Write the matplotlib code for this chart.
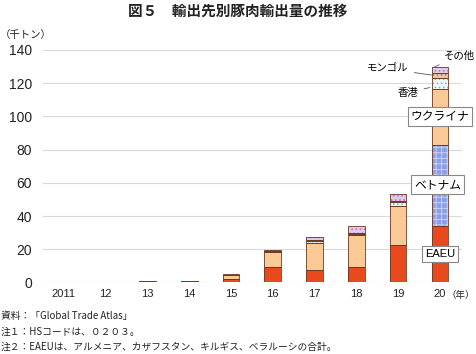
import matplotlib
matplotlib.use("Agg")
import matplotlib.pyplot as plt
import numpy as np

plt.rcParams['font.family'] = ['Noto Sans CJK JP', 'DejaVu Sans']
plt.rcParams['hatch.linewidth'] = 0.6

years = ['2011', '12', '13', '14', '15', '16', '17', '18', '19', '20']
eaeu = [0.1, 0.1, 0.3, 0.4, 2.0, 9.5, 7.8, 9.6, 22.8, 34.3]
vietnam = [0, 0, 0, 0, 0, 0, 0, 0, 0, 48.5]
ukraine = [0.1, 0.1, 0.3, 0.3, 2.5, 9.0, 16.2, 19.2, 23.5, 33.7]
hongkong = [0, 0, 0, 0, 0, 0.3, 0.8, 0.3, 2.2, 6.4]
mongolia = [0, 0, 0, 0, 0.2, 0.3, 0.6, 0.7, 0.8, 3.2]
others = [0.1, 0.1, 0.1, 0.1, 0.2, 0.4, 2.2, 4.0, 4.2, 3.4]

series = [
    ('EAEU', eaeu, '#E8491D', None, None),
    ('ベトナム', vietnam, '#8C9EE6', '+++', '#D0D8F6'),
    ('ウクライナ', ukraine, '#FACA96', None, None),
    ('香港', hongkong, '#EEF8F8', '....', '#7DB4C0'),
    ('モンゴル', mongolia, '#EBC6A6', '....', '#A8785A'),
    ('その他', others, '#E6C8EA', '....', '#A678B4'),
]

fig = plt.figure(figsize=(4.76, 3.54), dpi=100)
ax = fig.add_axes([0.0903, 0.2020, 0.8803, 0.6568])

x = np.arange(len(years))
w = 0.40
bottom = np.zeros(len(years))
for name, vals, face, hatch, hcol in series:
    v = np.array(vals, dtype=float)
    ax.bar(x, v, w, bottom=bottom, color=face, edgecolor='none', linewidth=0, zorder=2)
    if hatch:
        ax.bar(x, v, w, bottom=bottom, facecolor='none', edgecolor=hcol,
               hatch=hatch, linewidth=0, zorder=3)
    ax.bar(x, v, w, bottom=bottom, fill=False, edgecolor='#6B3A25',
           linewidth=0.6, zorder=4)
    bottom += v

ax.set_xlim(-0.5, 9.53)
ax.set_ylim(0, 140)
ax.set_yticks(np.arange(0, 141, 20))
ax.set_xticks(x)
ax.set_xticklabels(years, family='Liberation Sans', fontsize=8, color='#222222')
ax.set_yticklabels([str(v) for v in range(0, 141, 20)], family='Liberation Sans',
                   fontsize=10, color='#222222')
ax.tick_params(length=0, pad=8)
ax.tick_params(axis='x', pad=5)
ax.grid(axis='y', color='#DADADA', linewidth=0.8, zorder=0)
ax.set_axisbelow(True)
for s in ax.spines.values():
    s.set_visible(False)

box = dict(boxstyle='square,pad=0.25', facecolor='white', edgecolor='#888888', linewidth=0.8)
ax.text(9.0, 100, 'ウクライナ', ha='center', va='center', fontsize=8.5, bbox=box, zorder=6, clip_on=False)
ax.text(8.95, 58.8, 'ベトナム', ha='center', va='center', fontsize=8.5, bbox=box, zorder=6)
ax.text(9.0, 17.1, 'EAEU', ha='center', va='center', fontsize=8, family='Liberation Sans', bbox=box, zorder=6)

ax.annotate('香港', xy=(8.76, 117.4), xytext=(8.24, 114.3), fontsize=7.5,
            ha='center', va='center', annotation_clip=False,
            arrowprops=dict(arrowstyle='-', color='#555555', lw=0.6, shrinkA=2, shrinkB=0))
ax.annotate('モンゴル', xy=(8.80, 124.9), xytext=(7.76, 128.7), fontsize=7.5,
            ha='center', va='center', annotation_clip=False,
            arrowprops=dict(arrowstyle='-', color='#555555', lw=0.6, shrinkA=2, shrinkB=0))
ax.annotate('その他', xy=(8.88, 129.9), xytext=(9.46, 136.5), fontsize=7.5,
            ha='center', va='center', annotation_clip=False,
            arrowprops=dict(arrowstyle='-', color='#555555', lw=0.6, shrinkA=2, shrinkB=0))

fig.text(238/476, 1 - 11/354, '図５　輸出先別豚肉輸出量の推移', ha='center', va='center',
         fontsize=10.5, fontweight='bold', color='#222222')
fig.text(0/476, 1 - 35/354, '（千トン）', ha='left', va='center', fontsize=7.5, color='#222222')
fig.text(446/476, 1 - 295/354, '（年）', ha='left', va='center', fontsize=6.8, color='#222222')

notes = ['資料：「Global Trade Atlas」',
         '注１：HSコードは、０２０３。',
         '注２：EAEUは、アルメニア、カザフスタン、キルギス、ベラルーシの合計。']
note_y = [316, 332, 347]
for t, yy in zip(notes, note_y):
    fig.text(0.002, 1 - yy / 354, t, ha='left', va='center', fontsize=7, color='#222222')

fig.savefig('out.png', dpi=100)
